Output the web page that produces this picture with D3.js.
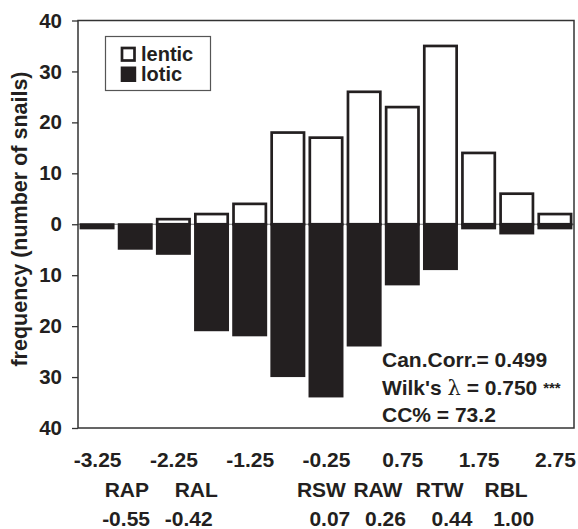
<!DOCTYPE html>
<html>
<head>
<meta charset="utf-8">
<script src="https://cdn.jsdelivr.net/npm/d3@7"></script>
<style>
  body { margin: 0; background: #fff; }
  svg text { font-family: "Liberation Sans", Arial, sans-serif; font-weight: bold; fill: #231f20; }
</style>
</head>
<body>
<div id="chart"></div>
<script>
// bins of the canonical score (centres), counts per habitat
var binCenters = [-3.25, -2.75, -2.25, -1.75, -1.25, -0.75, -0.25, 0.25, 0.75, 1.25, 1.75, 2.25, 2.75];
var lentic     = [0, 0, 1, 2, 4, 18, 17, 26, 23, 35, 14, 6, 2];
var lotic      = [1, 5, 6, 21, 22, 30, 34, 24, 12, 9, 1, 2, 1];

var xTickLabels = [-3.25, -2.25, -1.25, -0.25, 0.75, 1.75, 2.75];
var yTicks      = [40, 30, 20, 10, 0, -10, -20, -30, -40];

// variable loadings shown under the axis, with their place on the score axis
var varNames   = ["RAP", "RAL", "RSW", "RAW", "RTW", "RBL"];
var varAt      = [-2.86, -1.95, -0.31, 0.43, 1.24, 2.11];
var loadings   = ["-0.55", "-0.42", "0.07", "0.26", "0.44", "1.00"];
var loadingAt  = [-2.87, -2.05, -0.2, 0.53, 1.40, 2.21];

var stats = ["Can.Corr.= 0.499", "Wilk's", "CC% = 73.2"];

var width = 578, height = 529;
var margin = {top: 20.5, right: 4, bottom: 101, left: 78};

var svg = d3.select("#chart").append("svg")
    .attr("width", width)
    .attr("height", height);

var x = d3.scaleLinear()
    .domain([-3.5, 3.0])
    .range([margin.left, width - margin.right]);

var y = d3.scaleLinear()
    .domain([-40, 40])
    .range([height - margin.bottom, margin.top]);

var binW = x(0.5) - x(0);
var barW = binW - 3.2;
var ink = "#231f20";

// zero line
svg.append("line")
    .attr("x1", x(-3.5)).attr("x2", x(3.0))
    .attr("y1", y(0)).attr("y2", y(0))
    .attr("stroke", "#777").attr("stroke-width", 1.2);

// lentic bars (upwards, open)
svg.selectAll("rect.lentic")
  .data(binCenters.map(function(c, i) { return {c: c, v: lentic[i]}; }).filter(function(d) { return d.v > 0; }))
  .enter().append("rect")
    .attr("class", "lentic")
    .attr("x", function(d) { return x(d.c) - barW / 2 + 1.3; })
    .attr("y", function(d) { return y(d.v); })
    .attr("width", barW - 2.6)
    .attr("height", function(d) { return y(0) - y(d.v); })
    .attr("fill", "#fff")
    .attr("stroke", ink)
    .attr("stroke-width", 2.7);

// lotic bars (downwards, filled)
svg.selectAll("rect.lotic")
  .data(binCenters.map(function(c, i) { return {c: c, v: lotic[i]}; }))
  .enter().append("rect")
    .attr("class", "lotic")
    .attr("x", function(d) { return x(d.c) - barW / 2; })
    .attr("y", y(0) - 1)
    .attr("width", barW)
    .attr("height", function(d) { return y(-d.v) - y(0) + 1; })
    .attr("fill", ink);

// frame
svg.append("rect")
    .attr("x", x(-3.5)).attr("y", y(40))
    .attr("width", x(3.0) - x(-3.5))
    .attr("height", y(-40) - y(40))
    .attr("fill", "none")
    .attr("stroke", "#333")
    .attr("stroke-width", 1.5);

// y axis
var yAxis = svg.append("g")
    .attr("transform", "translate(" + margin.left + ",0)")
    .call(d3.axisLeft(y).tickValues(yTicks).tickSize(6).tickPadding(10)
      .tickFormat(function(d) { return Math.abs(d); }));
yAxis.select(".domain").remove();
yAxis.selectAll("line").attr("stroke", "#333").attr("stroke-width", 1.3);
yAxis.selectAll("text")
    .attr("fill", ink)
    .style("font-size", "20.5px")
    .style("font-family", "'Liberation Sans', Arial, sans-serif")
    .style("font-weight", "bold");

svg.append("text")
    .attr("transform", "translate(26.5," + 219 + ") rotate(-90)")
    .attr("text-anchor", "middle")
    .style("font-size", "21.5px")
    .text("frequency (number of snails)");

// x tick labels (plain hyphen as minus, like the original)
var xAxis = svg.append("g")
    .attr("transform", "translate(0," + 452 + ")")
    .call(d3.axisBottom(x).tickValues(xTickLabels).tickSize(0).tickPadding(0)
      .tickFormat(function(d) { return d.toFixed(2); }));
xAxis.select(".domain").remove();
xAxis.selectAll("text")
    .attr("fill", ink)
    .attr("dy", "0.71em")
    .style("font-size", "21px")
    .style("font-family", "'Liberation Sans', Arial, sans-serif")
    .style("font-weight", "bold");

svg.selectAll("text.varname")
  .data(varNames)
  .enter().append("text")
    .attr("class", "varname")
    .attr("x", function(d, i) { return x(varAt[i]); })
    .attr("y", 497)
    .attr("text-anchor", "middle")
    .style("font-size", "21px")
    .text(function(d) { return d; });

svg.selectAll("text.loading")
  .data(loadings)
  .enter().append("text")
    .attr("class", "loading")
    .attr("x", function(d, i) { return x(loadingAt[i]); })
    .attr("y", 526)
    .attr("text-anchor", "middle")
    .style("font-size", "21px")
    .text(function(d) { return d; });

// legend
var legend = svg.append("g");
legend.append("rect")
    .attr("x", 105.5).attr("y", 36.5)
    .attr("width", 105).attr("height", 54)
    .attr("fill", "#fff").attr("stroke", "#555").attr("stroke-width", 1.2);
legend.append("rect")
    .attr("x", 122).attr("y", 48)
    .attr("width", 12.5).attr("height", 12.5)
    .attr("fill", "#fff").attr("stroke", ink).attr("stroke-width", 2.7);
legend.append("rect")
    .attr("x", 120.7).attr("y", 66.5)
    .attr("width", 15.5).attr("height", 15.5)
    .attr("fill", ink);
legend.append("text").attr("x", 141).attr("y", 60.5).style("font-size", "20px").text("lentic");
legend.append("text").attr("x", 141).attr("y", 81).style("font-size", "20px").text("lotic");

// statistics
var st = svg.append("g").style("font-size", "21px");
st.append("text").attr("x", 382).attr("y", 367).text(stats[0]);
var w = st.append("text").attr("x", 382).attr("y", 395);
w.append("tspan").text(stats[1] + " ");
w.append("tspan").style("font-family", "'DejaVu Serif', serif").style("font-weight", "normal").text("λ");
w.append("tspan").text(" = 0.750 ");
w.append("tspan").style("font-size", "15px").attr("dy", "-2").text("***");
st.append("text").attr("x", 382).attr("y", 422).text(stats[2]);
</script>
</body>
</html>
